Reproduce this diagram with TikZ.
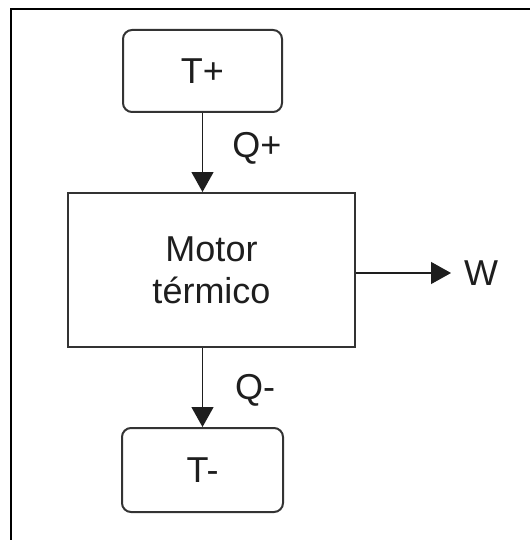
\documentclass[tikz,border=0pt]{standalone}
\usepackage{fontspec}
\setmainfont{Liberation Sans}
\usetikzlibrary{arrows.meta}
\definecolor{ink}{HTML}{1E1E1E}
\definecolor{boxline}{HTML}{333333}
\tikzset{
  lbl/.style={text=ink, font=\fontsize{36}{42}\selectfont, inner sep=0pt},
  tbox/.style={draw=boxline, line width=2pt, rounded corners=9pt, text=ink,
    font=\fontsize{36}{42}\selectfont, inner sep=0pt},
  mbox/.style={draw=boxline, line width=2pt, text=ink, align=center,
    font=\fontsize{36}{42}\selectfont, inner sep=0pt},
  arr/.style={draw=ink, line width=1.3pt, -{Triangle[length=20pt,width=22pt]}},
}
\begin{document}
\begin{tikzpicture}[x=1pt,y=-1pt]
\useasboundingbox (0,0) rectangle (530,540);
\fill[white] (0,0) rectangle (530,540);
\draw[black, line width=2.5pt] (11,540) -- (11,9) -- (530,9);

\node[tbox, minimum width=159pt, minimum height=82pt] (tp) at (202.5,71) {T+};
\node[mbox, minimum width=287pt, minimum height=154pt] (motor) at (211.5,270) {Motor\\t\'ermico};
\node[tbox, minimum width=161pt, minimum height=84pt] (tm) at (202.5,470) {T-};

\node[lbl] (qp) at (257,148) {Q+};
\node[lbl] (qm) at (255,390) {Q-};
\node[lbl] (w) at (481,273) {W};
\coordinate (wend) at (451,273);

\draw[arr] (tp.south) -- (tp.south |- motor.north);
\draw[arr] (tm.north |- motor.south) -- (tm.north);
\draw[arr] (motor.east |- wend) -- (wend);
\end{tikzpicture}
\end{document}
